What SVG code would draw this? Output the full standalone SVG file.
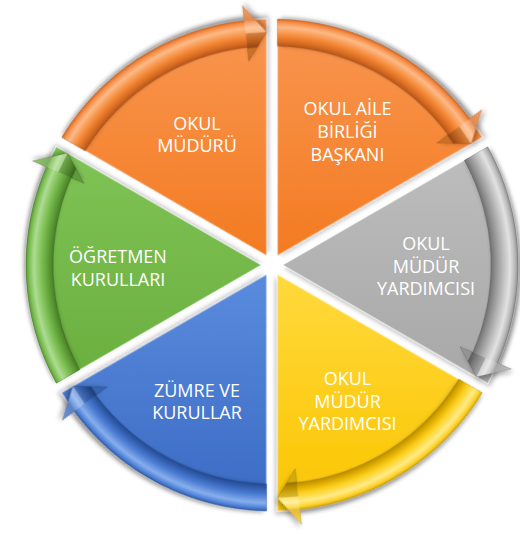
<svg xmlns="http://www.w3.org/2000/svg" width="520" height="545" viewBox="0 0 520 545">
<style>
.lbl{font-family:"Open Sans","Liberation Sans",sans-serif;font-size:18px;fill:#ffffff;text-anchor:middle}
.w{stroke:#ffffff;stroke-opacity:0.3;stroke-width:1.4;filter:url(#sh)}
.a{filter:url(#sh)}
.band{stroke:#000000;stroke-opacity:0.18;stroke-width:0.8;stroke-linejoin:round}
.fd{fill:#000000;fill-opacity:0.16}
.fl{fill:#ffffff;fill-opacity:0.22}
</style>
<defs>
<filter id="sh" x="-20%" y="-20%" width="140%" height="140%">
<feGaussianBlur in="SourceAlpha" stdDeviation="2.5"/>
<feOffset dx="1.5" dy="2.5" result="o"/>
<feComponentTransfer><feFuncA type="linear" slope="0.3"/></feComponentTransfer>
<feMerge><feMergeNode/><feMergeNode in="SourceGraphic"/></feMerge>
</filter>
<path id="wedge" d="M11,0 L215.74,-118.21 A246,246 0 0 1 215.74,118.21 Z"/>
<g id="arrow">
<path class="band" d="M215.74,-118.21 A246,246 0 0 1 225.60,98.09 L239.35,104.07 L204.48,111.71 L188.0,81.74 L200.84,87.33 A219,219 0 0 0 192.34,-104.70 Z"/>
<path class="fl" d="M204.48,111.71 L239.35,104.07 L213.67,92.91 Z"/>
<path class="fd" d="M204.48,111.71 L188.0,81.74 L213.67,92.91 Z"/>
</g>
<linearGradient id="gO1" gradientUnits="userSpaceOnUse" x1="0" y1="-245" x2="0" y2="-10" gradientTransform="rotate(120)"><stop offset="0" stop-color="#F99650"/><stop offset="1" stop-color="#F37B22"/></linearGradient>
<linearGradient id="gO2" gradientUnits="userSpaceOnUse" x1="0" y1="-245" x2="0" y2="-10" gradientTransform="rotate(60)"><stop offset="0" stop-color="#F99650"/><stop offset="1" stop-color="#F37B22"/></linearGradient>
<linearGradient id="gGr" gradientUnits="userSpaceOnUse" x1="0" y1="-125" x2="0" y2="125"><stop offset="0" stop-color="#BEBEBE"/><stop offset="1" stop-color="#A7A7A7"/></linearGradient>
<linearGradient id="gY" gradientUnits="userSpaceOnUse" x1="0" y1="10" x2="0" y2="245" gradientTransform="rotate(-60)"><stop offset="0" stop-color="#FFD93C"/><stop offset="1" stop-color="#FBC500"/></linearGradient>
<linearGradient id="gB" gradientUnits="userSpaceOnUse" x1="0" y1="10" x2="0" y2="245" gradientTransform="rotate(-120)"><stop offset="0" stop-color="#5A8BDD"/><stop offset="1" stop-color="#3A6AC3"/></linearGradient>
<linearGradient id="gG" gradientUnits="userSpaceOnUse" x1="0" y1="-125" x2="0" y2="125" gradientTransform="rotate(-180)"><stop offset="0" stop-color="#80C457"/><stop offset="1" stop-color="#6AAE3E"/></linearGradient>
<radialGradient id="bO" gradientUnits="userSpaceOnUse" cx="0" cy="0" r="261"><stop offset="0.785" stop-color="#F48530"/><stop offset="0.832" stop-color="#F48530"/><stop offset="0.839" stop-color="#B5551A"/><stop offset="0.856" stop-color="#D86C22"/><stop offset="0.88" stop-color="#F58A38"/><stop offset="0.912" stop-color="#FDBA88"/><stop offset="0.93" stop-color="#F7904A"/><stop offset="0.943" stop-color="#D86A22"/><stop offset="1" stop-color="#F48530"/></radialGradient>
<radialGradient id="bGr" gradientUnits="userSpaceOnUse" cx="0" cy="0" r="261"><stop offset="0.785" stop-color="#B0B0B0"/><stop offset="0.832" stop-color="#B0B0B0"/><stop offset="0.839" stop-color="#707070"/><stop offset="0.856" stop-color="#8F8F8F"/><stop offset="0.88" stop-color="#B4B4B4"/><stop offset="0.912" stop-color="#E2E2E2"/><stop offset="0.93" stop-color="#BBBBBB"/><stop offset="0.943" stop-color="#8E8E8E"/><stop offset="1" stop-color="#AEAEAE"/></radialGradient>
<radialGradient id="bY" gradientUnits="userSpaceOnUse" cx="0" cy="0" r="261"><stop offset="0.785" stop-color="#FCCB10"/><stop offset="0.832" stop-color="#FCCB10"/><stop offset="0.839" stop-color="#B88C00"/><stop offset="0.856" stop-color="#DDAA00"/><stop offset="0.88" stop-color="#FDD01E"/><stop offset="0.912" stop-color="#FFEB88"/><stop offset="0.93" stop-color="#FED431"/><stop offset="0.943" stop-color="#DDAA00"/><stop offset="1" stop-color="#FCCB10"/></radialGradient>
<radialGradient id="bB" gradientUnits="userSpaceOnUse" cx="0" cy="0" r="261"><stop offset="0.785" stop-color="#4576CE"/><stop offset="0.832" stop-color="#4576CE"/><stop offset="0.839" stop-color="#244A92"/><stop offset="0.856" stop-color="#325EAE"/><stop offset="0.88" stop-color="#4A7BD3"/><stop offset="0.912" stop-color="#88AEEC"/><stop offset="0.93" stop-color="#5285DA"/><stop offset="0.943" stop-color="#305DB0"/><stop offset="1" stop-color="#4576CE"/></radialGradient>
<radialGradient id="bG" gradientUnits="userSpaceOnUse" cx="0" cy="0" r="261"><stop offset="0.785" stop-color="#74B84A"/><stop offset="0.832" stop-color="#74B84A"/><stop offset="0.839" stop-color="#467E26"/><stop offset="0.856" stop-color="#5C9A35"/><stop offset="0.88" stop-color="#78BC4E"/><stop offset="0.912" stop-color="#AEDC92"/><stop offset="0.93" stop-color="#7DC155"/><stop offset="0.943" stop-color="#5A9834"/><stop offset="1" stop-color="#74B84A"/></radialGradient>
</defs>
<g id="node-okul-muduru">
<g transform="translate(272,265) rotate(-120)"><use href="#wedge" class="w" fill="url(#gO1)"/></g>
<text class="lbl" x="197" y="130">OKUL</text>
<text class="lbl" x="197" y="152">MÜDÜRÜ</text>
</g>
<g id="node-okul-aile-birligi-baskani">
<g transform="translate(272,265) rotate(-60)"><use href="#wedge" class="w" fill="url(#gO2)"/></g>
<text class="lbl" x="347.5" y="115">OKUL AİLE</text>
<text class="lbl" x="347.5" y="138">BİRLİĞİ</text>
<text class="lbl" x="347.5" y="161">BAŞKANI</text>
</g>
<g id="node-okul-mudur-yardimcisi-1">
<g transform="translate(272,265)"><use href="#wedge" class="w" fill="url(#gGr)"/></g>
<text class="lbl" x="426" y="250">OKUL</text>
<text class="lbl" x="426" y="273">MÜDÜR</text>
<text class="lbl" x="426" y="295">YARDIMCISI</text>
</g>
<g id="node-okul-mudur-yardimcisi-2">
<g transform="translate(272,265) rotate(60)"><use href="#wedge" class="w" fill="url(#gY)"/></g>
<text class="lbl" x="347.5" y="385">OKUL</text>
<text class="lbl" x="347.5" y="408">MÜDÜR</text>
<text class="lbl" x="347.5" y="430">YARDIMCISI</text>
</g>
<g id="node-zumre-ve-kurullar">
<g transform="translate(272,265) rotate(120)"><use href="#wedge" class="w" fill="url(#gB)"/></g>
<text class="lbl" x="197" y="397">ZÜMRE VE</text>
<text class="lbl" x="197" y="419">KURULLAR</text>
</g>
<g id="node-ogretmen-kurullari">
<g transform="translate(272,265) rotate(180)"><use href="#wedge" class="w" fill="url(#gG)"/></g>
<text class="lbl" x="118" y="263">ÖĞRETMEN</text>
<text class="lbl" x="118" y="286">KURULLARI</text>
</g>
<g id="connectors">
<g transform="translate(272,265) rotate(-120)"><use href="#arrow" class="a" fill="url(#bO)"/></g>
<g transform="translate(272,265) rotate(-60)"><use href="#arrow" class="a" fill="url(#bO)"/></g>
<g transform="translate(272,265)"><use href="#arrow" class="a" fill="url(#bGr)"/></g>
<g transform="translate(272,265) rotate(60)"><use href="#arrow" class="a" fill="url(#bY)"/></g>
<g transform="translate(272,265) rotate(120)"><use href="#arrow" class="a" fill="url(#bB)"/></g>
<g transform="translate(272,265) rotate(180)"><use href="#arrow" class="a" fill="url(#bG)"/></g>
</g>
</svg>
